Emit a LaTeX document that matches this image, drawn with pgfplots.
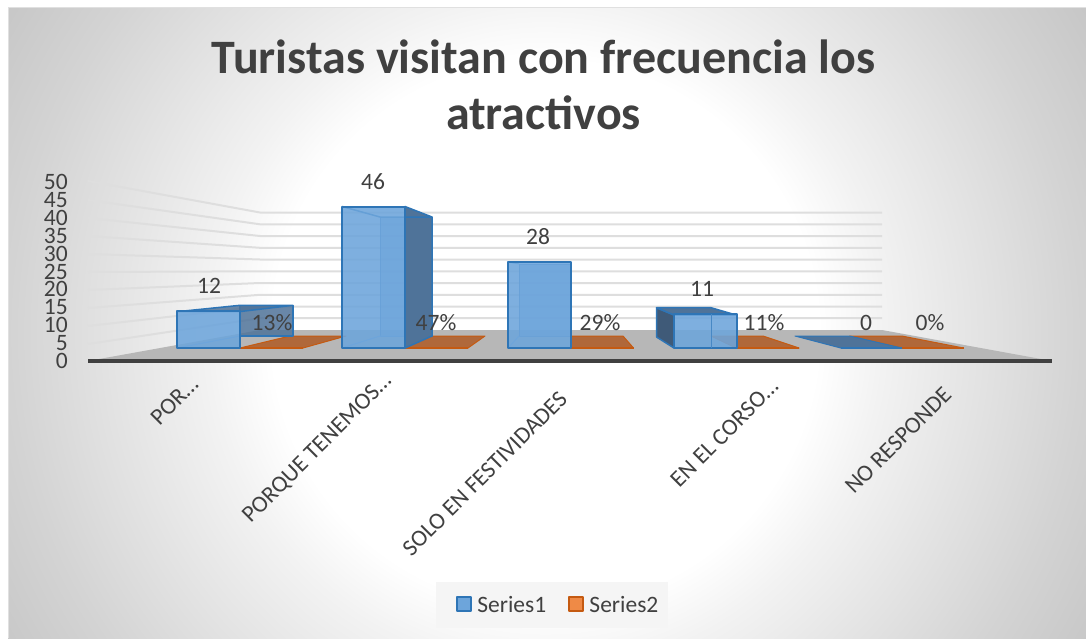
\documentclass[border=0pt]{standalone}
\usepackage{fontspec}
\setmainfont{Carlito}
\usepackage{pgfplots}
\pgfplotsset{compat=1.18}
\definecolor{txt}{HTML}{404040}
\definecolor{gridc}{HTML}{DEDEDE}
\definecolor{floorc}{HTML}{B7B7B7}
\definecolor{bluef}{HTML}{6DA5DB}
\definecolor{blued}{HTML}{2E75B6}
\definecolor{blues}{HTML}{4F7399}
\definecolor{bluek}{HTML}{3F5A78}
\definecolor{orgf}{HTML}{B0683A}
\definecolor{orgd}{HTML}{C55A11}
\definecolor{orgl}{HTML}{ED7D31}
\pgfdeclareradialshading{chartbg}{\pgfpoint{0bp}{0bp}}{
  color(0bp)=(white); color(10.5bp)=(white); color(13bp)=(white!95!black);
  color(20.5bp)=(black!17); color(25bp)=(black!23); color(50bp)=(black!23)}
\tikzset{fnt/.style={font=\fontsize{23.5}{25}\selectfont, text=txt}}
\pgfplotsset{
  pixelaxis/.style={scale only axis, width=1086pt, height=638pt,
    at={(0pt,0pt)}, anchor=south west, xmin=0, xmax=1086, clip=false, hide axis,
    every axis plot/.append style={line join=round}}
}
\begin{document}
\begin{tikzpicture}[x=1pt,y=1pt]
\useasboundingbox (0,0) rectangle (1086,638);
\begin{scope}
  \clip (8,0) rectangle (1086,630);
  \shade[shading=chartbg] (545,305) circle (650);
\end{scope}
\draw[black!12, line width=1pt] (8,0) -- (8,630) -- (1086,630);
\node[font=\fontsize{48}{50}\selectfont\bfseries, text=txt] at (543.5,581) {Turistas visitan con frecuencia los};
\node[font=\fontsize{48}{50}\selectfont\bfseries, text=txt] at (543.5,525) {atractivos};
\fill[white!96!black] (436,10) rectangle (668,56);

% floor, walls and depth faces, in picture coordinates
\begin{axis}[pixelaxis, ymin=0, ymax=638, y dir=reverse]
\addplot[fill=floorc, draw=none] coordinates {(88,361)(260,330)(882,330)(1052,361)} --cycle;
\addplot[gridc, line width=2pt] coordinates {(88,344)(260,318.2)(882,318.2)};
\addplot[gridc, line width=2pt] coordinates {(88,326)(260,306.5)(882,306.5)};
\addplot[gridc, line width=2pt] coordinates {(88,308)(260,294.8)(882,294.8)};
\addplot[gridc, line width=2pt] coordinates {(88,290)(260,283)(882,283)};
\addplot[gridc, line width=2pt] coordinates {(88,272)(260,271.3)(882,271.3)};
\addplot[gridc, line width=2pt] coordinates {(88,254)(260,259.5)(882,259.5)};
\addplot[gridc, line width=2pt] coordinates {(88,236)(260,247.8)(882,247.8)};
\addplot[gridc, line width=2pt] coordinates {(88,218)(260,236)(882,236)};
\addplot[gridc, line width=2pt] coordinates {(88,200)(260,224.3)(882,224.3)};
\addplot[gridc, line width=2pt] coordinates {(88,181)(260,212.5)(882,212.5)};
% Series2, flat on the floor
\addplot[fill=orgf, draw=orgd, line width=1pt] coordinates {(240,348)(303,348)(346,336)(290,336)} --cycle;
\addplot[fill=orgf, draw=orgd, line width=1pt] coordinates {(405,348)(468,348)(485,336)(432,336)} --cycle;
\addplot[fill=orgf, draw=orgd, line width=1pt] coordinates {(571,348)(633.5,348)(623,336)(571,336)} --cycle;
\addplot[fill=orgf, draw=orgd, line width=1pt] coordinates {(736,348)(799,348)(763,336)(711,336)} --cycle;
\addplot[fill=orgf, draw=orgd, line width=1pt] coordinates {(901.8,348)(963.5,348)(901.8,336)(849.6,336)} --cycle;
\addplot[orgd, line width=2pt] coordinates {(240,348)(303,348)};
\addplot[orgd, line width=2pt] coordinates {(405,348)(468,348)};
\addplot[orgd, line width=2pt] coordinates {(571,348)(633.5,348)};
\addplot[orgd, line width=2pt] coordinates {(736,348)(799,348)};
\addplot[orgd, line width=2pt] coordinates {(901.8,348)(963.5,348)};
% Series1, back, side and top faces
\addplot[fill=blues, fill opacity=.85, draw=blued, line width=1.5pt] coordinates {(240,305.3)(293,305.3)(293,336)(240,336)} --cycle;
\addplot[fill=blues, fill opacity=.85, draw=blued, line width=1.5pt] coordinates {(177,311.7)(240,305.3)(293,305.3)(239,311.7)} --cycle;
\addplot[bluef, line width=1pt] coordinates {(177,348)(240,336)};
\addplot[fill=bluef, draw=blued, line width=1pt, opacity=.7] coordinates {(380,217)(432,217)(432,336)(380,336)} --cycle;
\addplot[fill=blues, draw=blued, line width=1.5pt] coordinates {(405,206.5)(432,217)(432,336)(405,348)} --cycle;
\addplot[blued, line width=1.5pt] coordinates {(342,206.5)(380,217)(432,217)};
\addplot[bluef, line width=1pt] coordinates {(342,348)(380,336)(405,336)};
\addplot[fill=bluef, draw=blued, line width=1pt, opacity=.7] coordinates {(519,264)(571,264)(571,336)(519,336)} --cycle;
\addplot[bluef, line width=1pt] coordinates {(508,348)(519,336)};
\addplot[bluef, line width=1pt] coordinates {(508,262)(519,264)};
\addplot[fill=bluek, draw=blued, line width=1.5pt] coordinates {(656.5,307.7)(674,315)(674,348)(656.5,337)} --cycle;
\addplot[fill=blues, draw=blued, line width=1.5pt] coordinates {(656.5,307.7)(711,307.7)(736,315)(674,315)} --cycle;
\addplot[fill=blues, draw=blued, line width=1pt] coordinates {(795,336)(849.6,336)(901.8,348)(840.7,348)} --cycle;
\addplot[blued, line width=2pt] coordinates {(840.7,348)(901.8,348)};
\end{axis}

% front faces, values on the scale of the front plane
\begin{axis}[pixelaxis, ymin=-94.46, ymax=113.36,
  /pgf/number format/assume math mode=true,
  legend columns=2,
  legend style={at={(456pt,22pt)}, anchor=south west, draw=none, fill=none,
    font=\fontsize{23.5}{25}\selectfont, text=txt, inner sep=0pt,
    /tikz/every even column/.append style={column sep=20pt}},
  legend image code/.code={\draw[#1, line width=2pt] (0pt,-6.5pt) rectangle (14pt,7.5pt); \path (18pt,0pt);},
  every node near coord/.append style={fnt, anchor=center, yshift=25.5pt, inner sep=0pt}]
\addlegendimage{fill=bluef, draw=blued}
\addlegendimage{fill=orgl!90!white, draw=orgd}
\addplot[ybar, bar width=63pt, bar shift=0pt, fill=bluef, fill opacity=.88,
  draw=blued, line width=2pt, forget plot]
  coordinates {(208.5,12)(373.5,46)(539.5,28)(705,11)};
\addplot[blued!60!bluef, line width=1pt, forget plot] coordinates {(711,11)(711,0)};
\addplot[draw=none, mark=none, forget plot, nodes near coords]
  coordinates {(209,12)(373,46)(538,28)(702,11)(866,0)};
\addplot[draw=none, mark=none, forget plot, nodes near coords, point meta=explicit symbolic]
  coordinates {(272,0)[13\%] (436,0)[47\%] (600,0)[29\%] (764,0)[11\%] (930,0)[0\%]};
\addlegendentry{Series1}
\addlegendentry{Series2}
\end{axis}

% value axis and category labels
\begin{axis}[scale only axis, width=1015pt, height=179pt,
  at={(71pt,277pt)}, anchor=south west,
  xmin=71, xmax=1086, ymin=0, ymax=50, clip=false,
  axis x line=bottom, axis y line=left,
  axis line style={draw=none}, major tick length=0pt,
  /pgf/number format/assume math mode=true,
  ytick={0,5,...,50},
  yticklabel style={fnt, inner sep=0pt, anchor=east, xshift=-3pt},
  xtick={186,377,569,768,949},
  xticklabels={POR\ldots\kern8pt, PORQUE TENEMOS\ldots\kern4pt, SOLO EN FESTIVIDADES\kern28pt, EN EL CORSO\ldots\kern11pt, NO RESPONDE\kern22pt},
  xticklabel style={fnt, rotate=45, anchor=east, inner sep=0pt, yshift=-20pt}]
\addplot[txt, line width=3.5pt] coordinates {(88,0)(1052,0)};
\end{axis}
\end{tikzpicture}
\end{document}
